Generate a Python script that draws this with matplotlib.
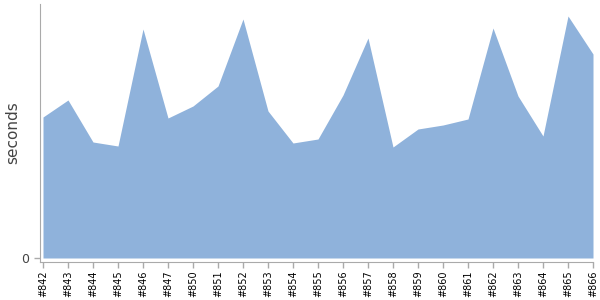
import numpy as np
import matplotlib
matplotlib.use("Agg")
import matplotlib.pyplot as plt

builds = ["#842", "#843", "#844", "#845", "#846", "#847", "#850", "#851", "#852",
          "#853", "#854", "#855", "#856", "#857", "#858", "#859", "#860", "#861",
          "#862", "#863", "#864", "#865", "#866"]
seconds = [141, 158, 116, 112, 229, 140, 152, 172, 239, 147, 115, 119, 163, 220,
           111, 129, 133, 139, 230, 162, 122, 242, 204]

FILL = "#8fb2db"
AXIS = "#aaaaaa"

fig = plt.figure(figsize=(6, 3), dpi=100)
ax = fig.add_axes([40 / 600, 38 / 300, 553 / 600, 258 / 300])

x = np.arange(len(builds))
ax.fill_between(x, 0, seconds, color=FILL, linewidth=0)

ax.set_xlim(-0.12, len(builds) - 1)
ax.set_ylim(-4, 254)
ax.set_xticks(x)
ax.set_xticklabels(builds, rotation=90, fontsize=7)
ax.set_yticks([0])
ax.set_yticklabels(["0"], fontsize=9, color="#444444")
ax.set_ylabel("seconds", fontsize=11, color="#444444", va="center")
ax.yaxis.set_label_coords(-27 / 553, 0.5)

for side in ["top", "right"]:
    ax.spines[side].set_visible(False)
for side in ["left", "bottom"]:
    ax.spines[side].set_color(AXIS)
ax.tick_params(axis="both", colors=AXIS, length=4, width=1)
ax.tick_params(axis="x", labelcolor="black", pad=2)
ax.tick_params(axis="y", labelcolor="#444444")

fig.savefig("out.png", dpi=100)
